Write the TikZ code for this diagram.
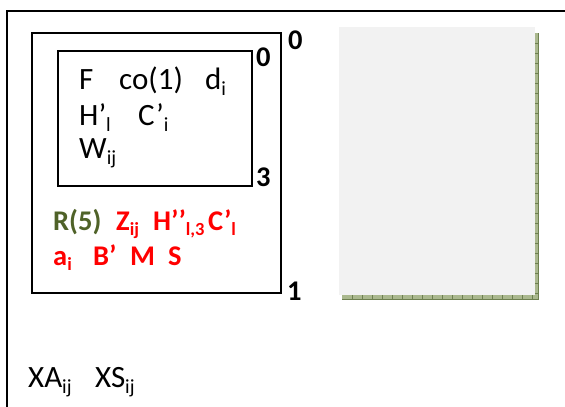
\documentclass[tikz,border=0pt]{standalone}
\usepackage{fontspec}
\setmainfont{Carlito}
\definecolor{olivetxt}{RGB}{79,98,40}
\definecolor{redtxt}{RGB}{255,0,0}
\definecolor{pagegray}{RGB}{242,242,242}
\definecolor{hatchlight}{RGB}{170,184,142}
\definecolor{hatchdark}{RGB}{110,128,80}
\newcommand{\sbx}[1]{\raisebox{-0.2em}{\fontsize{20}{20}\selectfont #1}}
\newcommand{\sbb}[1]{\raisebox{-0.2em}{\fontsize{18.5}{19}\selectfont #1}}
\begin{document}
\begin{tikzpicture}[x=1pt,y=-1pt,
  txt/.style={anchor=base west,inner sep=0pt,font=\fontsize{31}{36}\selectfont},
  btxt/.style={txt,font=\fontsize{28.5}{34}\selectfont\bfseries},
  lbl/.style={btxt,text=black},
  frame/.style={draw=black,line width=1.1pt}]
\useasboundingbox (0,0) rectangle (565,407);
% outer frame (only top and left visible)
\draw[line width=1.6pt] (565,11) -- (7,11) -- (7,407);
% middle box and inner box
\draw[frame] (32,33) rectangle (281,293);
\draw[frame] (58,51) rectangle (252,186);
% labels
\node[lbl] (l0a) at (288,49) {0};
\node[lbl] (l0b) at (256,66) {0};
\node[lbl] (l3) at (256,186) {3};
\node[lbl] (l1) at (287,300) {1};
% inner text
\node[txt] (F) at (79,89) {F};
\node[txt] (co) at (119,89) {co(1)};
\node[txt] (d) at (205,89) {d\sbx{i}};
\node[txt] (H) at (79,125) {H’\sbx{l}};
\node[txt] (C) at (138,125) {C’\sbx{i}};
\node[txt] (W) at (79,158) {W\sbx{ij}};
% coloured text
\node[btxt,text=olivetxt] (R) at (53,230) {R(5)};
\node[btxt,text=redtxt] (Z) at (116,230) {Z\sbb{ij}};
\node[btxt,text=redtxt] (H2) at (153,230) {H’’\sbb{l,3}};
\node[btxt,text=redtxt] (C2) at (208,230) {C’\sbb{l}};
\node[btxt,text=redtxt] (a) at (53,265) {a\sbb{i}};
\node[btxt,text=redtxt] (B) at (93,265) {B’};
\node[btxt,text=redtxt] (M) at (130,265) {M};
\node[btxt,text=redtxt] (S) at (168,265) {S};
% bottom text
\node[txt] (XA) at (28,387) {XA\sbx{ij}};
\node[txt] (XS) at (95,387) {XS\sbx{ij}};
% page
\fill[pagegray] (339,27) rectangle (535,295);
\fill[hatchlight] (535,33) rectangle (538.5,299);
\fill[hatchlight] (342,295) rectangle (538.5,299);
\foreach \yy in {43,53,...,293} \draw[hatchdark,line width=0.6pt] (535,\yy) -- (538.5,\yy);
\foreach \xx in {352,362,...,532} \draw[hatchdark,line width=0.6pt] (\xx,295) -- (\xx,299);
\draw[hatchdark,line width=0.5pt] (538.5,33) -- (538.5,299) -- (342,299);
\end{tikzpicture}
\end{document}
